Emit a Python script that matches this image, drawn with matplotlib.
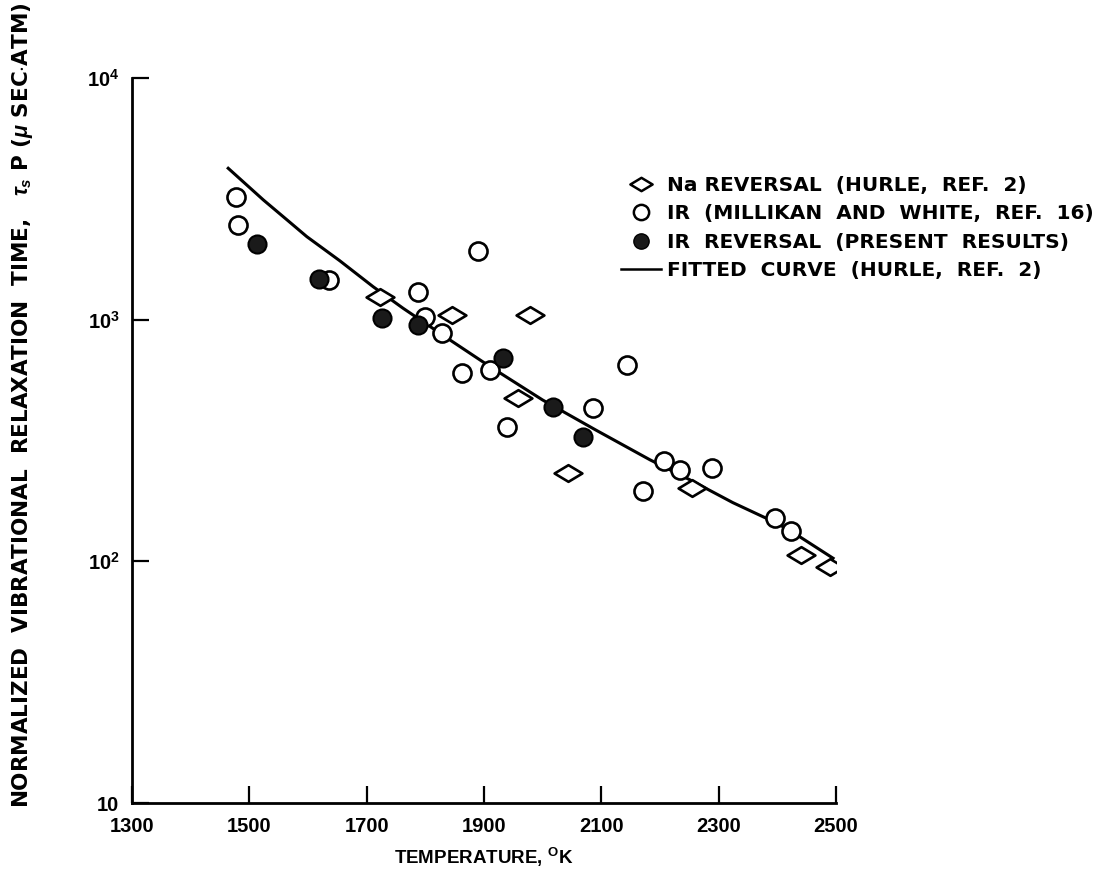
import matplotlib.pyplot as plt
from matplotlib.path import Path
from matplotlib.lines import Line2D

# ----------------------------------------------------------------------------------
# Data
# ----------------------------------------------------------------------------------

# Na reversal (Hurle, ref. 2)
na_temp = [1723, 1845, 1978, 1958, 2044, 2254, 2441, 2490]
na_tau = [1245, 1045, 1045, 473, 231, 201, 106, 95]

# IR (Millikan and White, ref. 16)
ir_temp = [1478, 1481, 1635, 1890, 1788, 1799, 1828, 1862, 1910,
           1940, 2143, 2085, 2171, 2206, 2234, 2288, 2396, 2424]
ir_tau = [3210, 2465, 1460, 1924, 1305, 1029, 878, 600, 619,
          361, 649, 430, 196, 259, 239, 243, 151, 133]

# IR reversal (present results)
pr_temp = [1513, 1618, 1726, 1788, 1933, 2018, 2069]
pr_tau = [2056, 1469, 1013, 951, 692, 437, 328]

# Fitted curve (Hurle, ref. 2)
fit_temp = [1464, 1524, 1564, 1598, 1654, 1711, 1762, 1842, 1910, 2000,
            2090, 2183, 2250, 2324, 2396, 2424, 2495]
fit_tau = [4230, 3127, 2590, 2205, 1754, 1369, 1115, 824, 640, 465,
           350, 263, 218, 175, 145, 133, 103]

x_ticks = [1300, 1500, 1700, 1900, 2100, 2300, 2500]
y_ticks = [10, 100, 1000, 10000]
y_tick_labels = ['10', r'$10^2$', r'$10^3$', r'$10^4$']

# ----------------------------------------------------------------------------------
# Style
# ----------------------------------------------------------------------------------

plt.rcParams['font.family'] = ['Liberation Sans', 'DejaVu Sans']
plt.rcParams['font.weight'] = 'bold'
plt.rcParams['mathtext.fontset'] = 'custom'
plt.rcParams['mathtext.rm'] = 'Liberation Sans:bold'
plt.rcParams['mathtext.it'] = 'Liberation Sans:italic:bold'
plt.rcParams['mathtext.bf'] = 'Liberation Sans:bold'

# flattened diamond marker
diamond = Path([(-1, 0), (0, 0.6), (1, 0), (0, -0.6), (-1, 0)],
               [Path.MOVETO, Path.LINETO, Path.LINETO, Path.LINETO, Path.CLOSEPOLY])

fig = plt.figure(figsize=(11.11, 8.88), dpi=100)
ax = fig.add_axes([0.1188, 0.0957, 0.6337, 0.8165])

ax.plot(fit_temp, fit_tau, color='black', linewidth=2.2, zorder=2)
ax.plot(na_temp, na_tau, linestyle='none', marker=diamond, markersize=20,
        markerfacecolor='white', markeredgecolor='black', markeredgewidth=1.9, zorder=3)
ax.plot(ir_temp, ir_tau, linestyle='none', marker='o', markersize=13,
        markerfacecolor='white', markeredgecolor='black', markeredgewidth=1.9, zorder=3)
ax.plot(pr_temp, pr_tau, linestyle='none', marker='o', markersize=13,
        markerfacecolor='#1a1a1a', markeredgecolor='black', markeredgewidth=1.5, zorder=4)

ax.set_yscale('log')
ax.set_xlim(1300, 2500)
ax.set_ylim(10, 10000)
ax.set_xticks(x_ticks)
ax.set_xticklabels([str(t) for t in x_ticks])
ax.set_yticks(y_ticks)
ax.set_yticklabels(y_tick_labels)
ax.minorticks_off()

ax.spines['top'].set_visible(False)
ax.spines['right'].set_visible(False)
ax.spines['left'].set_linewidth(2)
ax.spines['bottom'].set_linewidth(2)
ax.tick_params(direction='in', length=12, width=1.6, labelsize=14.5)
ax.tick_params(axis='x', pad=10)
ax.tick_params(axis='y', pad=9)

ax.set_xlabel(r'TEMPERATURE, $^{\mathrm{O}}$K', fontsize=13.5, fontweight='bold', labelpad=7)
fig.text(0.02, 0.544,
         r'NORMALIZED  VIBRATIONAL  RELAXATION  TIME,   $\tau_s$ P ($\mu$ SEC$\cdot$ATM)',
         rotation=90, ha='center', va='center', fontsize=15.5,
         fontweight='bold', family='DejaVu Sans')

# Legend
handles = [
    Line2D([], [], linestyle='none', marker=diamond, markersize=16,
           markerfacecolor='white', markeredgecolor='black', markeredgewidth=1.8),
    Line2D([], [], linestyle='none', marker='o', markersize=11,
           markerfacecolor='white', markeredgecolor='black', markeredgewidth=1.8),
    Line2D([], [], linestyle='none', marker='o', markersize=11,
           markerfacecolor='#1a1a1a', markeredgecolor='black'),
    Line2D([], [], color='black', linewidth=1.8),
]
labels = ['Na REVERSAL  (HURLE,  REF.  2)',
          'IR  (MILLIKAN  AND  WHITE,  REF.  16)',
          'IR  REVERSAL  (PRESENT  RESULTS)',
          'FITTED  CURVE  (HURLE,  REF.  2)']
fig.legend(handles, labels, loc='upper left', bbox_to_anchor=(0.559, 0.802),
           frameon=False, handlelength=2.0, handletextpad=0.3,
           labelspacing=0.47, borderaxespad=0, borderpad=0,
           prop={'family': 'DejaVu Sans', 'weight': 'bold', 'size': 14.5})

fig.savefig('out.png', dpi=100)
